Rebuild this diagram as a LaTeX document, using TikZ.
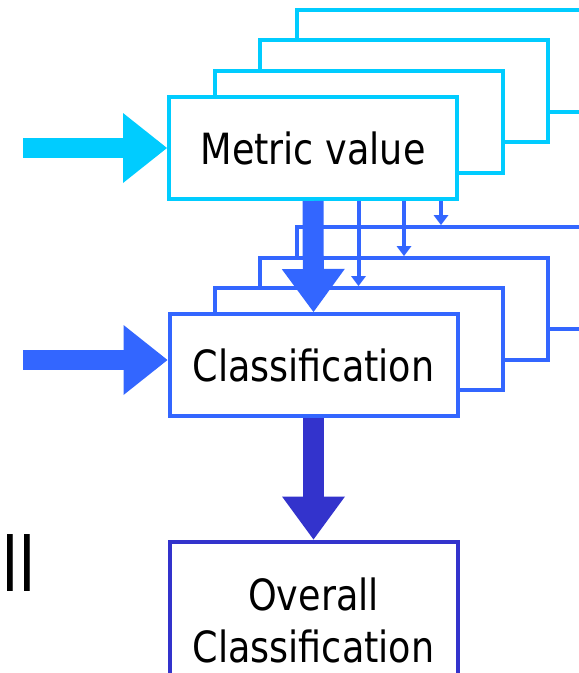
\documentclass[tikz,border=0pt]{standalone}
\usepackage{fontspec}
\setmainfont{DejaVu Sans}[FakeStretch=0.85]
\usepackage{xcolor}
\usetikzlibrary{arrows.meta}
\definecolor{metcyan}{RGB}{0,204,255}
\definecolor{clsblue}{RGB}{51,102,255}
\definecolor{ovrblue}{RGB}{51,51,204}

\begin{document}
\begin{tikzpicture}[x=1pt,y=-1pt,every node/.style={font=\fontsize{43}{52}\selectfont}]
\tikzstyle{lay}=[draw,line width=4pt,fill=white,minimum width=288pt,minimum height=102pt,inner sep=0pt]
\tikzstyle{mbox}=[lay,draw=metcyan]
\tikzstyle{cbox}=[lay,draw=clsblue]
\tikzstyle{obox}=[lay,draw=ovrblue,minimum height=158pt,align=center]
\tikzstyle{fatdown}=[line width=21pt,-{Triangle[length=43pt,width=63pt,line width=0pt]}]
\tikzstyle{fatin}=[line width=20pt,-{Triangle[length=44pt,width=70pt,line width=0pt]}]
\tikzstyle{tap}=[clsblue,line width=4pt,-{Triangle[length=10pt,width=15pt,line width=0pt]}]
\useasboundingbox (0,0) rectangle (579,673);
\clip (0,0) rectangle (579,673);
% metric value stack, back to front
\node[mbox] (m4) at (441,61) {};
\node[mbox] (m3) at (404,90.5) {};
\node[mbox] (m2) at (358.5,121.5) {};
\node[mbox] (metric) at (313,148) {Metric value};
% classification stack
\node[cbox] (c4) at (441,278) {};
\node[cbox] (c3) at (404,309) {};
\node[cbox] (c2) at (358.5,339) {};
\node[cbox] (cls) at (313.5,365) {Classification};
\node[obox] (overall) at (313.5,620.5) {Overall\\Classification};
\node[font=\fontsize{75}{80}\selectfont,anchor=base west,inner sep=0pt] (cut) at (1,591) {ll};
% inputs
\coordinate (min) at (23,148);
\coordinate (cin) at (23,360);
\draw[fatin,metcyan] (min) -- (metric.west);
\draw[fatin,clsblue] (cin) -- (cls.west |- cin);
% flows
\draw[fatdown,clsblue] (metric.south) -- (cls.north);
\draw[tap] (c2.north |- metric.south) -- (c2.north);
\draw[tap] (c3.north |- metric.south) -- (c3.north);
\draw[tap] (c4.north |- metric.south) -- (c4.north);
\draw[fatdown,ovrblue] (cls.south) -- (overall.north);
\end{tikzpicture}
\end{document}
